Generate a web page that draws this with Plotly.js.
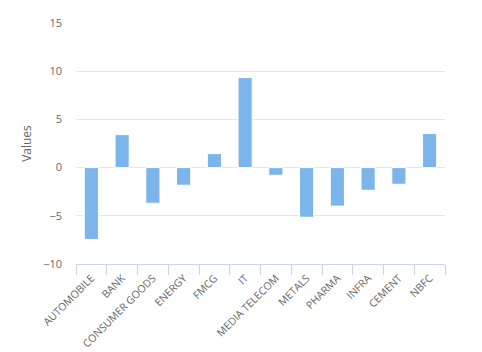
<!DOCTYPE html>
<html>
<head>
<meta charset="utf-8">
<script src="https://cdn.plot.ly/plotly-3.0.1.min.js"></script>
<style>html,body{margin:0;padding:0;background:#fff;}#chart{width:482px;height:352px;}</style>
</head>
<body>
<div id="chart"></div>
<script>
const categories = ["AUTOMOBILE","BANK","CONSUMER GOODS","ENERGY","FMCG","IT","MEDIA TELECOM","METALS","PHARMA","INFRA","CEMENT","NBFC"];
const values = [-7.45, 3.42, -3.7, -1.83, 1.45, 9.34, -0.8, -5.15, -4.0, -2.35, -1.73, 3.53];
const yTicks = [-10, -5, 0, 5, 10, 15];

Plotly.newPlot('chart', [{
  type: 'bar',
  x: categories,
  y: values,
  marker: {color: '#7cb5ec', line: {color: '#ffffff', width: 1}},
  hoverinfo: 'x+y'
}], {
  width: 482, height: 352,
  margin: {l: 76, r: 37, t: 23, b: 88},
  paper_bgcolor: '#ffffff', plot_bgcolor: '#ffffff',
  font: {family: '"Open Sans", sans-serif', size: 11, color: '#666666'},
  bargap: 0.54,
  showlegend: false,
  xaxis: {
    type: 'category',
    tickangle: -45,
    tickson: 'boundaries',
    ticks: 'outside', ticklen: 10, tickcolor: '#ccd6eb', tickwidth: 1,
    showline: true, linecolor: '#ccd6eb', linewidth: 1,
    showgrid: false, zeroline: false,
    ticklabelstandoff: 3,
    tickfont: {size: 10.5, color: '#666666'}
  },
  yaxis: {
    range: [-10, 15],
    tickvals: yTicks,
    showgrid: true, gridcolor: '#e6e6e6', gridwidth: 1,
    zeroline: false, showline: false,
    ticks: '', ticklen: 0,
    ticklabelstandoff: 13,
    tickfont: {size: 11, color: '#666666'},
    title: {text: 'Values', font: {size: 12, color: '#666666'}, standoff: 8}
  }
}, {displayModeBar: false, staticPlot: true});
</script>
</body>
</html>
